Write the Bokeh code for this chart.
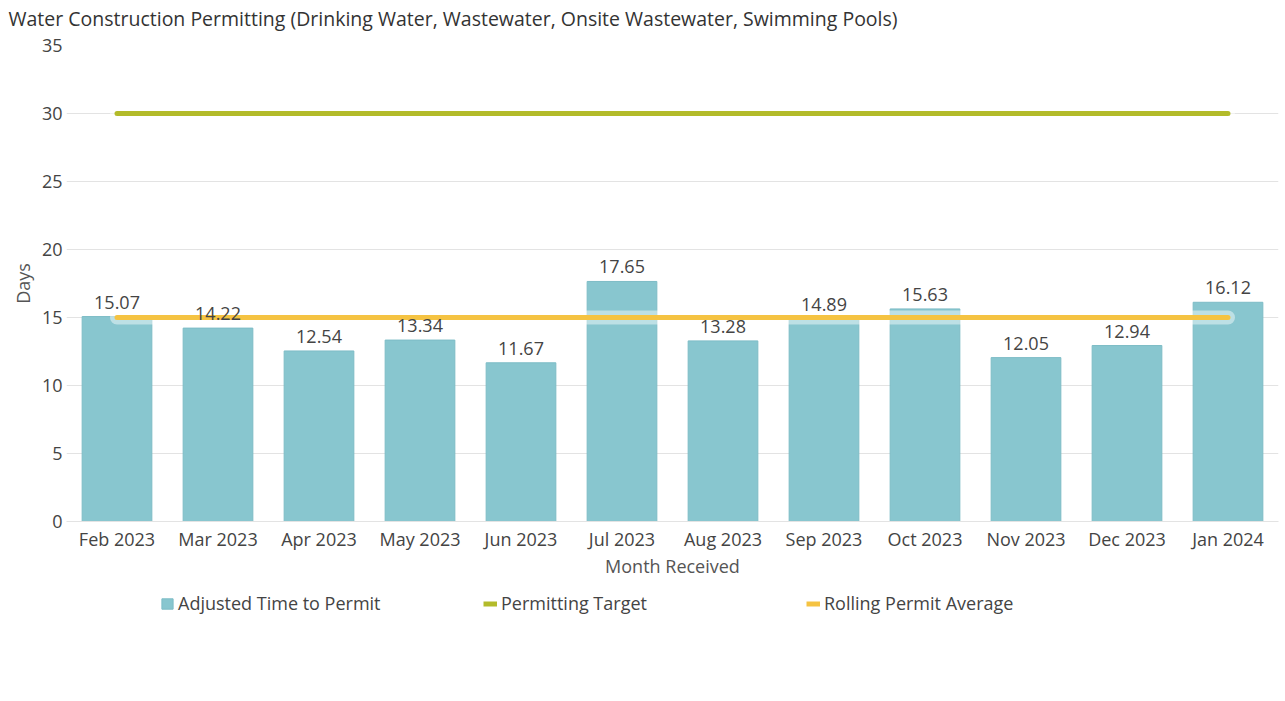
from bokeh.plotting import figure
from bokeh.layouts import column
from bokeh.models import ColumnDataSource, Legend, LegendItem, FactorRange, Range1d
from bokeh.core.properties import value
from bokeh.embed import file_html
from bokeh.resources import INLINE

months = ["Feb 2023", "Mar 2023", "Apr 2023", "May 2023", "Jun 2023", "Jul 2023",
          "Aug 2023", "Sep 2023", "Oct 2023", "Nov 2023", "Dec 2023", "Jan 2024"]
adjusted = [15.07, 14.22, 12.54, 13.34, 11.67, 17.65, 13.28, 14.89, 15.63, 12.05, 12.94, 16.12]
target = [30] * 12
rolling = [15.0] * 12
labels = ["%.2f" % v for v in adjusted]
series_names = ["Adjusted Time to Permit", "Permitting Target", "Rolling Permit Average"]

FONT = "Open Sans"
TXT = "#444444"
FS = "18px"
BAR = "#88c6cf"
BAR_LINE = "#7dbcc6"
GREEN = "#b3bb2a"
YELLOW = "#f5c342"

src = ColumnDataSource(dict(m=months, adj=adjusted, tgt=target, roll=rolling, lab=labels))

p = figure(width=1285, height=590, output_backend="svg", toolbar_location=None,
           x_range=FactorRange(*months, range_padding=0), y_range=Range1d(0, 35),
           min_border_left=66, min_border_right=7, min_border_top=45, min_border_bottom=69,
           title="Water Construction Permitting (Drinking Water, Wastewater, Onsite Wastewater, Swimming Pools)")
p.outline_line_color = None
p.background_fill_color = "white"
p.border_fill_color = "white"

p.title.text_font = FONT
p.title.text_font_size = "19.5px"
p.title.text_font_style = "normal"
p.title.text_color = "#333333"
p.title.align = "left"
p.title.offset = -58
p.title.standoff = 0
p.title.padding = dict(left=0, right=0, top=0, bottom=14)

p.vbar(x="m", top="adj", width=0.69, source=src, fill_color=BAR, line_color=BAR_LINE, line_width=1)

p.line(x="m", y="tgt", source=src, line_color="white", line_alpha=0.5, line_width=14, line_cap="round")
p.line(x="m", y="tgt", source=src, line_color=GREEN, line_width=5, line_cap="round")
p.line(x="m", y="roll", source=src, line_color="white", line_alpha=0.45, line_width=14, line_cap="round")
p.line(x="m", y="roll", source=src, line_color=YELLOW, line_width=5, line_cap="round")

p.text(x="m", y="adj", text="lab", source=src, text_align="center", text_baseline="bottom",
       y_offset=-8, text_font=value(FONT), text_font_size=FS, text_color=TXT)

p.xgrid.grid_line_color = None
p.ygrid.grid_line_color = "#e3e3e3"
p.ygrid.grid_line_width = 1

p.yaxis.ticker = [0, 5, 10, 15, 20, 25, 30, 35]
p.yaxis.axis_line_color = None
p.yaxis.major_label_standoff = 4
p.yaxis.axis_label = "Days"
p.yaxis.axis_label_standoff = 4
p.xaxis.axis_label = "Month Received"
p.xaxis.axis_line_color = "#e3e3e3"
p.xaxis.major_label_standoff = 5
p.xaxis.axis_label_standoff = 0

for ax in (p.xaxis, p.yaxis):
    ax.major_tick_line_color = None
    ax.minor_tick_line_color = None
    ax.major_tick_out = 0
    ax.major_tick_in = 0
    ax.minor_tick_out = 0
    ax.minor_tick_in = 0
    ax.major_label_text_font = FONT
    ax.major_label_text_font_size = FS
    ax.major_label_text_color = TXT
    ax.axis_label_text_font = FONT
    ax.axis_label_text_font_size = FS
    ax.axis_label_text_font_style = "normal"
    ax.axis_label_text_color = "#555555"

# legend strip below the chart (its frame is aligned with the chart frame by the column)
lf = figure(width=1285, height=111, output_backend="svg", toolbar_location=None,
            x_range=Range1d(0, 1), y_range=Range1d(0, 1),
            min_border=0, min_border_left=0, min_border_right=0, min_border_top=0, min_border_bottom=0)
lf.axis.visible = False
lf.grid.visible = False
lf.outline_line_color = None
lf.background_fill_color = "white"
lf.border_fill_color = "white"
# placeholder renderers (NaN data, nothing drawn) so the legend has glyph styles
dummy = ColumnDataSource(dict(x=[float("nan")] * 2, y=[float("nan")] * 2, top=[float("nan")] * 2))
lb = lf.vbar(x="x", top="top", width=0.5, source=dummy, fill_color=BAR, line_color=BAR_LINE)
lg = lf.line(x="x", y="y", source=dummy, line_color=GREEN, line_width=5)
ly = lf.line(x="x", y="y", source=dummy, line_color=YELLOW, line_width=5)

legend = Legend(items=[LegendItem(label=series_names[0], renderers=[lb], index=0),
                       LegendItem(label=series_names[1], renderers=[lg]),
                       LegendItem(label=series_names[2], renderers=[ly])],
                orientation="horizontal", location=(94, 86),
                glyph_width=14, glyph_height=13, label_standoff=4, label_width=303, spacing=2,
                padding=0, margin=0, border_line_color=None, background_fill_alpha=0,
                label_text_font=FONT, label_text_font_size=FS, label_text_color=TXT)
lf.add_layout(legend, "center")

layout = column(p, lf, spacing=0)
open("out.html", "w").write(file_html(layout, INLINE))
